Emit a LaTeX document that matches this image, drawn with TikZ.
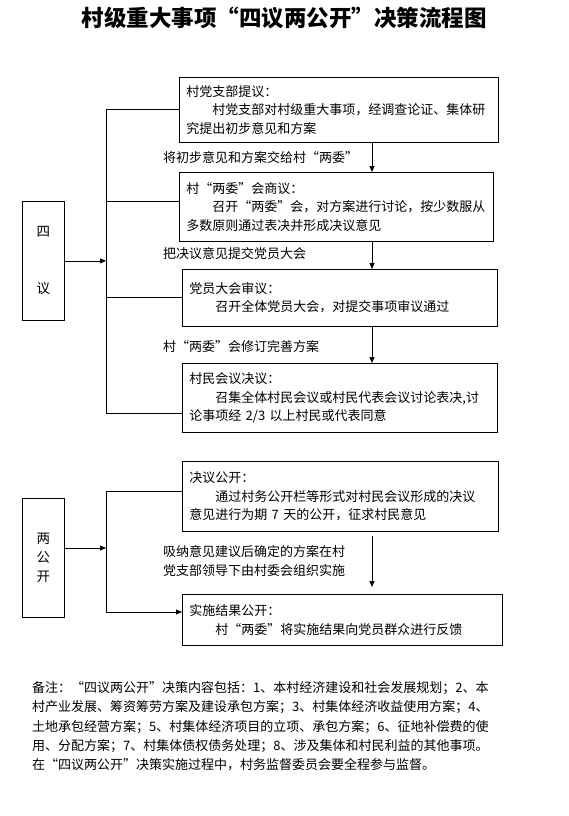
\documentclass[tikz,border=0pt]{standalone}
\usepackage{fontspec}
\setmainfont{Noto Sans CJK SC}
\usepackage{tikz}
\usetikzlibrary{arrows.meta,calc}

\tikzset{
  stepbox/.style={draw, line width=0.8pt, anchor=north west, inner xsep=7pt, inner ysep=0pt, align=left, font=\fontsize{13}{18.5}\selectfont},
  sidebox/.style={draw, line width=0.8pt, anchor=north west, inner sep=0pt, minimum width=42pt, minimum height=119pt, align=center, font=\fontsize{13.5}{19}\selectfont},
  flowlabel/.style={anchor=west, inner sep=0pt, align=left, font=\fontsize{13}{19}\selectfont},
  conn/.style={line width=0.8pt},
  arr/.style={line width=0.8pt, -{Triangle[length=6pt,width=5pt]}},
}

\begin{document}
\begin{tikzpicture}[x=1pt,y=-1pt]
    \useasboundingbox (0,0) rectangle (569,816);
    \node[font=\bfseries\fontsize{22.5}{24}\selectfont] (title) at (284,18) {村级重大事项“四议两公开”决策流程图};

    % four-step part
    \node[stepbox, text width=305pt, minimum height=65pt] (tiyi) at (179,77) {村党支部提议：\\\hspace*{2em}村党支部对村级重大事项，经调查论证、集体研\\究提出初步意见和方案};
    \node[stepbox, text width=300pt, minimum height=69pt] (shangyi) at (179,172) {村“两委”会商议：\\\hspace*{2em}召开“两委”会，对方案进行讨论，按少数服从\\多数原则通过表决并形成决议意见};
    \node[stepbox, text width=301pt, minimum height=57pt] (shenyi) at (182,269) {党员大会审议：\\\hspace*{2em}召开全体党员大会，对提交事项审议通过};
    \node[stepbox, text width=301pt, minimum height=69pt] (jueyi) at (182,363) {村民会议决议：\\\hspace*{2em}召集全体村民会议或村民代表会议讨论表决,讨\\论事项经 2/3 以上村民或代表同意};

    % two-open part
    \node[stepbox, text width=302pt, minimum height=70pt] (juegk) at (182,461) {决议公开：\\\hspace*{2em}通过村务公开栏等形式对村民会议形成的决议\\意见进行为期 7 天的公开，征求村民意见};
    \node[stepbox, text width=306pt, minimum height=51pt] (jieguo) at (182,594) {实施结果公开：\\\hspace*{2em}村“两委”将实施结果向党员群众进行反馈};

    \node[sidebox] (siyi) at (22,201) {四\\[38pt]议};
    \node[sidebox] (lianggk) at (22,498) {两\\公\\开};

    \node[flowlabel] (l1) at (163,158) {将初步意见和方案交给村“两委”};
    \node[flowlabel] (l2) at (163,254) {把决议意见提交党员大会};
    \node[flowlabel] (l3) at (163,347) {村“两委”会修订完善方案};
    \node[flowlabel] (l4) at (163,561.5) {吸纳意见建议后确定的方案在村\\党支部领导下由村委会组织实施};

    \coordinate (ax) at (372,0);
    \draw[arr] (tiyi.south -| ax) -- (shangyi.north -| ax);
    \draw[arr] (shangyi.south -| ax) -- (shenyi.north -| ax);
    \draw[arr] (shenyi.south -| ax) -- (jueyi.north -| ax);
    \draw[arr] ($(juegk.south -| ax)+(0,4)$) -- ($(jieguo.north -| ax)+(0,-7)$);

    % bus lines
    \coordinate (b1a) at (106,109);
    \coordinate (b1b) at (106,201);
    \coordinate (b1c) at (106,297);
    \coordinate (b1d) at (106,413);
    \draw[conn] (b1a) -- (b1d);
    \draw[conn] (b1a) -- (b1a -| tiyi.west);
    \draw[conn] (b1b) -- (b1b -| shangyi.west);
    \draw[conn] (b1c) -- (b1c -| shenyi.west);
    \draw[conn] (b1d) -- (b1d -| jueyi.west);
    \draw[arr] (siyi.east) -- (siyi.east -| b1a);

    \coordinate (b2a) at (106,491);
    \coordinate (b2in) at (106,548);
    \coordinate (b2b) at (106,612);
    \draw[conn] (b2a) -- (b2b);
    \draw[conn] (b2a) -- (b2a -| juegk.west);
    \draw[arr] (b2b) -- (b2b -| jieguo.west);
    \draw[arr] (lianggk.east |- b2in) -- (b2in);

    \node[anchor=north west, inner sep=0pt, text width=460pt, align=left, font=\fontsize{13}{19.4}\selectfont] (note) at (32,681) {备注：“四议两公开”决策内容包括：1、本村经济建设和社会发展规划；2、本\\村产业发展、筹资筹劳方案及建设承包方案；3、村集体经济收益使用方案；4、\\土地承包经营方案；5、村集体经济项目的立项、承包方案；6、征地补偿费的使\\用、分配方案；7、村集体债权债务处理；8、涉及集体和村民利益的其他事项。\\在“四议两公开”决策实施过程中，村务监督委员会要全程参与监督。};
\end{tikzpicture}
\end{document}
